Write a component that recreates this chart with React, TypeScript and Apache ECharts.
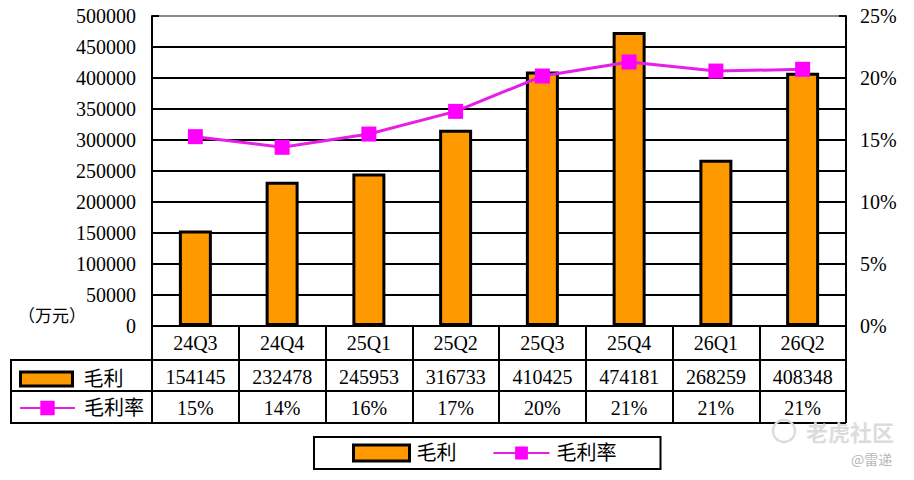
import React, { useEffect, useRef } from "react";
import * as echarts from "echarts";

const categories = ["24Q3", "24Q4", "25Q1", "25Q2", "25Q3", "25Q4", "26Q1", "26Q2"];
const grossProfit = [154145, 232478, 245953, 316733, 410425, 474181, 268259, 408348];
const grossMargin = [0.1527, 0.1441, 0.1548, 0.1731, 0.2016, 0.2129, 0.2056, 0.207];
const marginLabels = ["15%", "14%", "16%", "17%", "20%", "21%", "21%", "21%"];
const leftTicks = { min: 0, max: 500000, interval: 50000 };
const rightTicks = { min: 0, max: 0.25, interval: 0.05 };

const FONT = "'Liberation Serif', 'DejaVu Serif', 'Noto Sans CJK SC', serif";
const BAR_NAME = "毛利";
const LINE_NAME = "毛利率";

export default function App() {
  const ref = useRef<HTMLDivElement>(null);

  useEffect(() => {
    if (!ref.current) return;
    const chart = echarts.init(ref.current, null, { renderer: "svg" });

    const tableAxis = (offset: number, tickLen: number, formatter: any) => ({
      type: "category",
      data: categories,
      gridIndex: 0,
      position: "bottom",
      offset,
      axisLine: { show: true, onZero: false, lineStyle: { color: "#000", width: 2 } },
      axisTick: { show: true, length: tickLen, interval: 0, lineStyle: { color: "#000", width: 2 } },
      axisLabel: { interval: 0, fontSize: 20, color: "#000", margin: 7, formatter },
      splitLine: { show: false },
    });

    const splitColors = new Array(10).fill("#000").concat(["#8a8a8a"]);

    const option: any = {
      animation: false,
      textStyle: { fontFamily: FONT },
      grid: { left: 152, right: 68, top: 16, bottom: 154 },
      xAxis: [
        tableAxis(0, 34, (v: string) => v),
        tableAxis(34, 31, (_v: string, i: number) => String(grossProfit[i])),
        tableAxis(65, 32, (_v: string, i: number) => marginLabels[i]),
      ],
      yAxis: [
        {
          type: "value",
          position: "left",
          min: leftTicks.min,
          max: leftTicks.max,
          interval: leftTicks.interval,
          axisLine: { show: true, lineStyle: { color: "#000", width: 2 } },
          axisTick: { show: true, inside: true, length: 7, lineStyle: { color: "#000", width: 2 } },
          axisLabel: { fontSize: 20, color: "#000", margin: 16, formatter: (v: number) => String(v) },
          splitLine: { show: true, lineStyle: { color: splitColors, width: 2 } },
        },
        {
          type: "value",
          position: "right",
          min: rightTicks.min,
          max: rightTicks.max,
          interval: rightTicks.interval,
          axisLine: { show: true, lineStyle: { color: "#000", width: 2 } },
          axisTick: { show: true, inside: true, length: 7, lineStyle: { color: "#000", width: 2 } },
          axisLabel: {
            fontSize: 20,
            color: "#000",
            margin: 14,
            formatter: (v: number) => Math.round(v * 100) + "%",
          },
          splitLine: { show: false },
        },
      ],
      legend: [
        {
          left: 19,
          top: 369,
          padding: 0,
          selectedMode: false,
          icon: "rect",
          itemWidth: 52,
          itemHeight: 14,
          textStyle: { fontSize: 20, color: "#000", fontFamily: FONT, padding: [0, 0, 0, 6] },
          data: [{ name: BAR_NAME, icon: "rect", itemStyle: { color: "#FF9900", borderColor: "#000", borderWidth: 3 } }],
        },
        {
          left: 19,
          top: 398,
          padding: 0,
          selectedMode: false,
          itemWidth: 55,
          itemHeight: 18,
          textStyle: { fontSize: 20, color: "#000", fontFamily: FONT, padding: [0, 0, 0, 4] },
          data: [{ name: LINE_NAME }],
        },
        {
          left: 314,
          top: 437,
          padding: [6, 44, 6, 38],
          borderColor: "#000",
          borderWidth: 2,
          itemGap: 36,
          selectedMode: false,
          itemWidth: 56,
          itemHeight: 16,
          textStyle: { fontSize: 20, color: "#000", fontFamily: FONT, padding: [0, 0, 0, 2] },
          data: [
            { name: BAR_NAME, icon: "rect", itemStyle: { color: "#FF9900", borderColor: "#000", borderWidth: 3 } },
            { name: LINE_NAME },
          ],
        },
      ],
      series: [
        {
          name: BAR_NAME,
          type: "bar",
          xAxisIndex: 0,
          yAxisIndex: 0,
          data: grossProfit,
          barWidth: 33,
          itemStyle: { color: "#FF9900", borderColor: "#000", borderWidth: 3 },
          z: 2,
        },
        {
          name: LINE_NAME,
          type: "line",
          xAxisIndex: 0,
          yAxisIndex: 1,
          data: grossMargin,
          symbol: "rect",
          symbolSize: 15,
          lineStyle: { color: "#E61EE6", width: 3 },
          itemStyle: { color: "#FF00FF" },
          z: 5,
        },
      ],
      graphic: [
        { type: "line", shape: { x1: 11, y1: 360, x2: 152, y2: 360 }, style: { stroke: "#000", lineWidth: 2 } },
        { type: "line", shape: { x1: 11, y1: 391, x2: 152, y2: 391 }, style: { stroke: "#000", lineWidth: 2 } },
        { type: "line", shape: { x1: 11, y1: 423, x2: 846, y2: 423 }, style: { stroke: "#000", lineWidth: 2 } },
        { type: "line", shape: { x1: 11, y1: 359, x2: 11, y2: 424 }, style: { stroke: "#000", lineWidth: 2 } },
        {
          type: "text",
          left: 18,
          top: 308,
          style: { text: "（万元）", fontSize: 17, fill: "#000", fontFamily: FONT },
        },
        {
          type: "circle",
          shape: { cx: 784, cy: 431, r: 11 },
          style: { fill: "none", stroke: "#dcdcdc", lineWidth: 2.5 },
        },
        {
          type: "text",
          left: 806,
          top: 420,
          style: { text: "老虎社区", fontSize: 22, fontWeight: "bold", fill: "#dcdcdc", fontFamily: "'Noto Sans CJK SC', sans-serif" },
        },
        {
          type: "text",
          left: 851,
          top: 452,
          style: { text: "@雷递", fontSize: 14, fill: "#b8b8b8", fontFamily: "'Noto Sans CJK SC', sans-serif" },
        },
      ],
    };

    chart.setOption(option);
    return () => chart.dispose();
  }, []);

  return (
    <div
      ref={ref}
      style={{ position: "fixed", left: 0, top: 0, width: 914, height: 480, background: "#fff" }}
    />
  );
}
